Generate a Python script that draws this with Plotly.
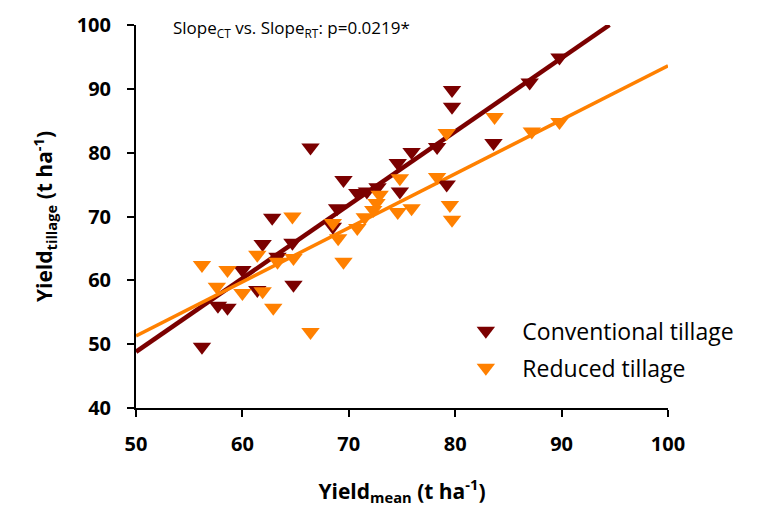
import plotly.graph_objects as go

# Conventional tillage (CT)
ct_x = [56.2, 57.7, 58.6, 60.0, 61.4, 61.9, 62.8, 63.3, 64.7, 64.8, 66.4, 68.5, 68.9, 69.5,
        70.8, 71.7, 72.7, 74.8, 74.6, 75.9, 78.3, 79.2, 79.7, 79.7, 83.6, 87.0, 89.8]
ct_y = [49.6, 56.0, 55.7, 61.6, 58.5, 65.7, 69.8, 63.7, 65.9, 59.3, 80.8, 68.4, 71.3, 75.7,
        73.7, 73.9, 74.6, 73.9, 78.4, 80.1, 80.9, 75.0, 87.2, 89.8, 81.5, 91.0, 94.9]

# Reduced tillage (RT)
rt_x = [56.2, 57.6, 58.6, 60.0, 61.4, 61.9, 62.9, 63.3, 64.8, 64.7, 66.4, 68.5, 69.0, 69.5,
        70.8, 71.5, 72.3, 72.6, 72.9, 74.6, 74.8, 75.9, 78.3, 79.2, 79.5, 79.7, 83.7, 87.2, 89.8]
rt_y = [62.4, 59.0, 61.6, 58.0, 64.0, 58.3, 55.7, 62.9, 63.5, 70.0, 51.9, 69.0, 66.6, 62.9,
        68.2, 69.9, 71.0, 72.1, 73.4, 70.7, 76.0, 71.3, 76.2, 83.1, 71.8, 69.5, 85.6, 83.3, 84.8]

# Regression lines (endpoints)
ct_fit_x = [50, 94.5]
ct_fit_y = [48.8, 100]
rt_fit_x = [50, 100]
rt_fit_y = [51.3, 93.6]

x_ticks = [50, 60, 70, 80, 90, 100]
y_ticks = [40, 50, 60, 70, 80, 90, 100]

CT_COLOR = "#7B0000"
RT_COLOR = "#FF8000"
FONT = "Open Sans"

fig = go.Figure()
fig.add_trace(go.Scatter(x=ct_fit_x, y=ct_fit_y, mode="lines",
                         line=dict(color=CT_COLOR, width=4.5), showlegend=False, hoverinfo="skip"))
fig.add_trace(go.Scatter(x=rt_fit_x, y=rt_fit_y, mode="lines",
                         line=dict(color=RT_COLOR, width=3.5), showlegend=False, hoverinfo="skip"))
fig.add_trace(go.Scatter(x=ct_x, y=ct_y, mode="markers", name="Conventional tillage",
                         legendgroup="ct",
                         marker=dict(symbol="triangle-down", size=16, color=CT_COLOR)))
fig.add_trace(go.Scatter(x=rt_x, y=rt_y, mode="markers", name="Reduced tillage",
                         legendgroup="rt",
                         marker=dict(symbol="triangle-down", size=16, color=RT_COLOR)))

axis_common = dict(
    showgrid=False, zeroline=False, showline=True, linecolor="black", linewidth=2,
    ticks="outside", ticklen=7, tickwidth=1.5, tickcolor="black",
    tickfont=dict(family=FONT, size=20, color="black", weight="bold"),
    mirror=False,
)

fig.update_layout(
    width=759, height=519,
    margin=dict(l=136, r=91, t=25, b=111),
    paper_bgcolor="white", plot_bgcolor="white",
    font=dict(family=FONT, color="black"),
    xaxis=dict(range=[50, 100], tickvals=x_ticks, ticklabelstandoff=10,
               title=dict(text="Yield<sub>mean</sub> (t ha<sup>-1</sup>)",
                          font=dict(family=FONT, size=21, color="black", weight="bold"),
                          standoff=28),
               **axis_common),
    yaxis=dict(range=[40, 100], tickvals=y_ticks, ticklabelstandoff=12,
               title=dict(text="Yield<sub>tillage</sub> (t ha<sup>-1</sup>)",
                          font=dict(family=FONT, size=21, color="black", weight="bold"),
                          standoff=18),
               **axis_common),
    legend=dict(x=0.589, y=0.153, xanchor="left", yanchor="middle",
                font=dict(family=FONT, size=23, color="black"),
                itemwidth=63,
                bgcolor="rgba(0,0,0,0)", traceorder="grouped", tracegroupgap=4),
    annotations=[dict(
        text="Slope<sub>CT</sub> vs. Slope<sub>RT</sub>: p=0.0219*",
        xref="paper", yref="paper", x=0.066, y=0.992, xanchor="left", yanchor="middle",
        showarrow=False, font=dict(family=FONT, size=17, color="black"))],
)

fig.write_html("out.html")
